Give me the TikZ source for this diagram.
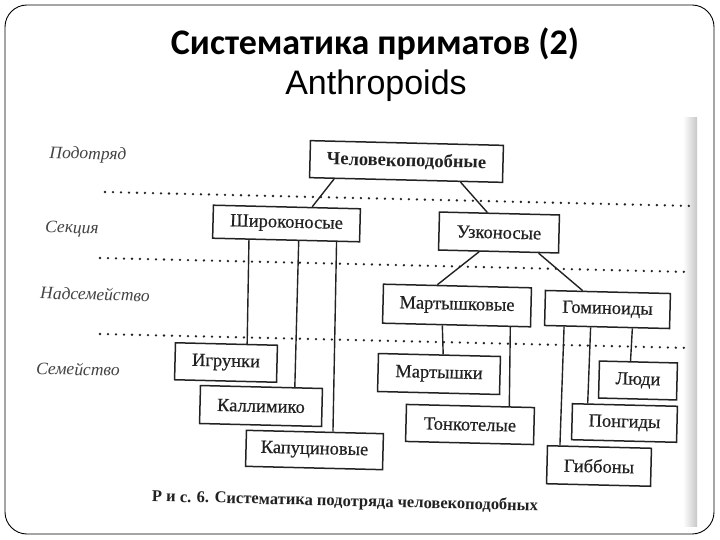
\documentclass[tikz,border=0pt]{standalone}
\usepackage{fontspec}
\setmainfont{Liberation Serif}
\newfontfamily\titlefont{Carlito}
\newfontfamily\engfont{Liberation Sans}
\newfontfamily\boxfont[FakeBold=0.5]{Liberation Serif}
\usetikzlibrary{calc}
\definecolor{ink}{HTML}{222222}
\begin{document}
\begin{tikzpicture}[x=1pt,y=-1pt,
  box/.style={draw=ink, line width=1.5pt, minimum height=#1, inner sep=0pt, fill=white,
    font=\boxfont\fontsize{18.5}{22}\selectfont, text=ink, rotate=-1.4},
  box/.default=37pt,
  link/.style={draw=ink, line width=1.4pt},
  lvl/.style={font=\fontsize{17.5}{20}\selectfont\itshape, text=ink!85, rotate=-1.4},
  dotline/.style={draw=ink, line width=2.6pt, dash pattern=on 0pt off 8pt, line cap=round}
]
\useasboundingbox (0,0) rectangle (720,540);
\fill[white] (0,0) rectangle (720,540);
% scan edge band
\shade[left color=white, right color=black!22] (683,118) rectangle (697,526);
% slide frame
\draw[line width=0.9pt, rounded corners=22pt] (5,5) rectangle (714,534);

% titles
\node[font=\titlefont\bfseries\fontsize{36}{42}\selectfont] (t1) at (375,44) {Систематика приматов (2)};
\node[font=\engfont\fontsize{34}{40}\selectfont] (t2) at (376,86) {Anthropoids};

% level separators
\draw[dotline] (105,192) -- (693,206);
\draw[dotline] (100,258) -- (690,272);
\draw[dotline] (100,334) -- (690,348);

% level labels
\node[lvl] (l1) at (88,155) {Подотряд};
\node[lvl] (l2) at (72,229) {Секция};
\node[lvl] (l3) at (95,294) {Надсемейство};
\node[lvl] (l4) at (78,369) {Семейство};

% boxes
\node[box, minimum width=193pt, font=\fontsize{18.5}{22}\selectfont\bfseries] (chel) at (406.5,161.5) {Человекоподобные};
\node[box=33pt, minimum width=147pt] (shir) at (286.5,223.5) {Широконосые};
\node[box=38pt, minimum width=120pt] (uzk) at (499,232.5) {Узконосые};
\node[box=39pt, minimum width=148pt] (mkov) at (457,305.5) {Мартышковые};
\node[box=35pt, minimum width=125pt] (gom) at (607.5,309.5) {Гоминоиды};
\node[box, minimum width=102pt] (igr) at (226,362.5) {Игрунки};
\node[box=38pt, minimum width=122pt] (kall) at (261,406) {Каллимико};
\node[box=36pt, minimum width=137pt] (kap) at (314.5,450) {Капуциновые};
\node[box=38pt, minimum width=122pt] (mart) at (439,374) {Мартышки};
\node[box, minimum width=128pt] (tonk) at (470,424.5) {Тонкотелые};
\node[box, minimum width=78pt] (lyudi) at (638,380.5) {Люди};
\node[box=36pt, minimum width=105pt] (pong) at (624.5,423) {Понгиды};
\node[box=38pt, minimum width=104pt] (gibb) at (599,466) {Гиббоны};

% connectors
\draw[link] ($(chel.south west)!0.13!(chel.south east)$) -- ($(shir.north west)!0.67!(shir.north east)$);
\draw[link] ($(chel.south west)!0.78!(chel.south east)$) -- ($(uzk.north west)!0.40!(uzk.north east)$);
\draw[link] ($(uzk.south west)!0.34!(uzk.south east)$) -- ($(mkov.north west)!0.365!(mkov.north east)$);
\draw[link] ($(uzk.south west)!0.83!(uzk.south east)$) -- ($(gom.north west)!0.30!(gom.north east)$);
\draw[link] ($(shir.south west)!0.25!(shir.south east)$) -- ($(igr.north west)!0.70!(igr.north east)$);
\draw[link] ($(shir.south west)!0.585!(shir.south east)$) -- ($(kall.north west)!0.77!(kall.north east)$);
\draw[link] ($(shir.south west)!0.84!(shir.south east)$) -- ($(kap.north west)!0.63!(kap.north east)$);
\draw[link] ($(mkov.south west)!0.405!(mkov.south east)$) -- ($(mart.north west)!0.53!(mart.north east)$);
\draw[link] ($(mkov.south west)!0.86!(mkov.south east)$) -- ($(tonk.north west)!0.80!(tonk.north east)$);
\draw[link] ($(gom.south west)!0.16!(gom.south east)$) -- ($(gibb.north west)!0.125!(gibb.north east)$);
\draw[link] ($(gom.south west)!0.37!(gom.south east)$) -- ($(pong.north west)!0.15!(pong.north east)$);
\draw[link] ($(gom.south west)!0.70!(gom.south east)$) -- ($(lyudi.north west)!0.40!(lyudi.north east)$);

% caption
\node[font=\fontsize{16.5}{19}\selectfont\bfseries, text=ink, rotate=-1.4] (cap) at (345,502) {Р и с. 6. Систематика подотряда человекоподобных};
\end{tikzpicture}
\end{document}
